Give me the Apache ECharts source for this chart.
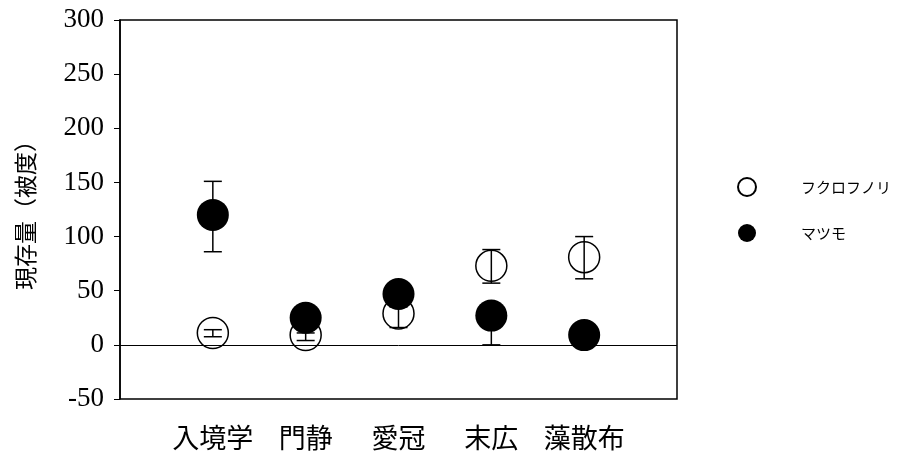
<!DOCTYPE html>
<html>
<head>
<meta charset="utf-8">
<script src="https://cdn.jsdelivr.net/npm/echarts@6/dist/echarts.min.js"></script>
<style>
  html, body { margin: 0; padding: 0; background: #fff; }
  #chart { width: 899px; height: 451px; }
</style>
</head>
<body>
<div id="chart"></div>
<script>
// 調査地点
var sites = ['入境学', '門静', '愛冠', '末広', '藻散布'];

// フクロフノリ（白丸）: 平均と誤差範囲
var fukuroMean = [11, 9, 29, 73, 81];
var fukuroLow = [7.5, 4, 16, 57, 61];
var fukuroHigh = [14, 11, 35, 88, 100];

// マツモ（黒丸）
var matsumoMean = [120, 25, 47, 27, 9];
var matsumoLow = [86, 20, 40, 0, 5];
var matsumoHigh = [151, 30, 55, 35, 12];

var yTicks = { min: -50, max: 300, step: 50 };

// 両端に空きを入れたカテゴリ軸
var axisCats = [''].concat(sites, ['']);

function points(vals) {
  return vals.map(function (v, i) { return [i + 1, v]; });
}
function bars(lo, hi) {
  return lo.map(function (v, i) { return [i + 1, v, hi[i]]; });
}

function errorBar(params, api) {
  var x = api.value(0);
  var lo = api.coord([x, api.value(1)]);
  var hi = api.coord([x, api.value(2)]);
  var w = 9;
  var st = { stroke: '#000', lineWidth: 1.5 };
  return {
    type: 'group',
    children: [
      { type: 'line', shape: { x1: lo[0], y1: lo[1], x2: hi[0], y2: hi[1] }, style: st },
      { type: 'line', shape: { x1: lo[0] - w, y1: lo[1], x2: lo[0] + w, y2: lo[1] }, style: st },
      { type: 'line', shape: { x1: hi[0] - w, y1: hi[1], x2: hi[0] + w, y2: hi[1] }, style: st }
    ]
  };
}

var chart = echarts.init(document.getElementById('chart'));
chart.setOption({
  animation: false,
  backgroundColor: '#fff',
  grid: {
    left: 120, right: 222, top: 20, bottom: 50,
    show: true, borderColor: '#000', borderWidth: 1.5
  },
  legend: {
    orient: 'vertical',
    left: 732, top: 172,
    itemWidth: 18, itemHeight: 18, itemGap: 27,
    textStyle: {
      fontFamily: 'Noto Sans CJK JP', fontSize: 15, color: '#000',
      padding: [0, 0, 0, 40]
    },
    data: ['フクロフノリ', 'マツモ']
  },
  xAxis: {
    type: 'category',
    data: axisCats,
    boundaryGap: false,
    axisLine: { show: false },
    axisTick: { show: false },
    splitLine: { show: false },
    axisLabel: {
      interval: 0, margin: 25,
      fontFamily: 'Noto Sans CJK JP', fontSize: 27, color: '#000'
    }
  },
  yAxis: {
    type: 'value',
    min: yTicks.min, max: yTicks.max, interval: yTicks.step,
    name: '現存量（被度）',
    nameLocation: 'middle', nameRotate: 90, nameGap: 83,
    nameTextStyle: { fontFamily: 'Noto Sans CJK JP', fontSize: 23, color: '#000' },
    axisLine: { show: true, lineStyle: { color: '#000', width: 1.5 } },
    axisTick: { show: true, inside: false, length: 6, lineStyle: { color: '#000' } },
    splitLine: { show: false },
    axisLabel: {
      margin: 16,
      fontFamily: 'Liberation Serif', fontSize: 27, color: '#000'
    }
  },
  series: [
    {
      name: 'フクロフノリ',
      type: 'scatter',
      data: points(fukuroMean),
      symbol: 'circle', symbolSize: 31,
      itemStyle: { color: '#fff', borderColor: '#000', borderWidth: 1.5, opacity: 1 },
      z: 2,
      markLine: {
        silent: true, symbol: ['none', 'none'],
        label: { show: false },
        lineStyle: { color: '#000', width: 1, type: 'solid' },
        data: [{ yAxis: 0 }]
      }
    },
    {
      name: 'フクロフノリ誤差',
      type: 'custom',
      data: bars(fukuroLow, fukuroHigh),
      renderItem: errorBar,
      z: 3
    },
    {
      name: 'マツモ誤差',
      type: 'custom',
      data: bars(matsumoLow, matsumoHigh),
      renderItem: errorBar,
      z: 4
    },
    {
      name: 'マツモ',
      type: 'scatter',
      data: points(matsumoMean),
      symbol: 'circle', symbolSize: 32,
      itemStyle: { color: '#000', opacity: 1 },
      z: 5
    }
  ]
});
</script>
</body>
</html>
